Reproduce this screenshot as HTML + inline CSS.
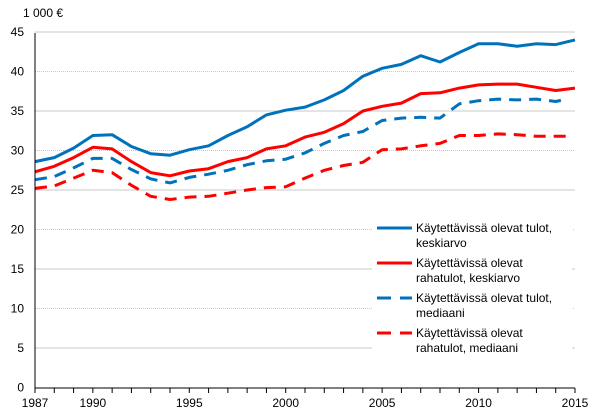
<!DOCTYPE html>
<html><head><meta charset="utf-8"><style>
html,body{margin:0;padding:0;background:#fff;}
svg{display:block;font-family:"Liberation Sans",Arial,sans-serif;}
</style></head><body>
<svg id="c" width="605" height="416" viewBox="0 0 605 416" xmlns="http://www.w3.org/2000/svg"></svg>
<script>
const s=document.getElementById('c');
const X=y=>35+(y-1987)*540/28, Y=v=>387.5-7.9*v;
let h='';
h+='<text x="23" y="17" font-size="12" fill="#000">1 000 €</text>';
for(let v=5;v<=45;v+=5){h+=`<line x1="35" x2="575" y1="${Y(v)}" y2="${Y(v)}" stroke="#c8c8c8" stroke-width="1" stroke-dasharray="${v%10?'none':'1 1'}"/>`;}
for(let v=0;v<=45;v+=5){h+=`<text x="24" y="${Y(v)+4}" font-size="12" text-anchor="end">${v}</text>`;}
const d={
bs:[28.6,29.1,30.3,31.9,32.0,30.5,29.6,29.4,30.1,30.6,31.9,33.0,34.5,35.1,35.5,36.4,37.6,39.4,40.4,40.9,42.0,41.2,42.4,43.5,43.5,43.2,43.5,43.4,44.0],
rs:[27.3,28.0,29.1,30.4,30.2,28.6,27.2,26.8,27.4,27.7,28.6,29.1,30.2,30.6,31.7,32.3,33.4,35.0,35.6,36.0,37.2,37.3,37.9,38.3,38.4,38.4,38.0,37.6,37.9],
bd:[26.3,26.7,27.8,29.0,29.0,27.6,26.4,25.9,26.6,27.0,27.5,28.2,28.7,28.9,29.7,30.9,31.9,32.4,33.8,34.1,34.2,34.1,35.9,36.3,36.5,36.4,36.5,36.2,36.5],
rd:[25.2,25.5,26.5,27.5,27.2,25.6,24.2,23.8,24.1,24.2,24.6,25.0,25.3,25.4,26.5,27.5,28.1,28.5,30.1,30.2,30.6,30.9,31.9,31.9,32.1,32.0,31.8,31.8,31.8]};
const st={bs:['#0072bc',''],rs:['#ff0000',''],bd:['#0072bc','12 8'],rd:['#ff0000','12 8']};
for(const k of ['rd','bd','rs','bs']){let p=d[k].map((v,i)=>`${X(1987+i).toFixed(1)},${Y(v).toFixed(1)}`);if(k[1]=='d')p[p.length-1]=`${(X(2015)-8).toFixed(1)},${Y(d[k][28]).toFixed(1)}`;
h+=`<polyline points="${p.join(' ')}" fill="none" stroke="${st[k][0]}" stroke-width="3" ${st[k][1]?`stroke-dasharray="${st[k][1]}"`:''} stroke-linejoin="round"/>`;}
h+='<line x1="35" x2="35" y1="33" y2="388" stroke="#000"/><line x1="35" x2="575" y1="388" y2="388" stroke="#000"/>';
for(let y=1987;y<=2015;y++){h+=`<line x1="${X(y)}" x2="${X(y)}" y1="388" y2="393" stroke="#000"/>`;}
for(const y of [1987,1990,1995,2000,2005,2010,2015]){h+=`<text x="${X(y)}" y="407" font-size="12" text-anchor="middle">${y}</text>`;}
h+='<rect x="372" y="215" width="200" height="140" fill="#fff"/>';
const L=[['bs','Käytettävissä olevat tulot,','keskiarvo',228],['rs','Käytettävissä olevat','rahatulot, keskiarvo',263],['bd','Käytettävissä olevat tulot,','mediaani',298],['rd','Käytettävissä olevat','rahatulot, mediaani',333]];
for(const [k,a,b,y] of L){h+=`<line x1="377" x2="412" y1="${y}" y2="${y}" stroke="${st[k][0]}" stroke-width="3" ${st[k][1]?'stroke-dasharray="14 9"':''}/>`;
h+=`<text x="416" y="${y+4}" font-size="12">${a}</text><text x="416" y="${y+19}" font-size="12">${b}</text>`;}
s.innerHTML=h;
</script>
</body></html>
